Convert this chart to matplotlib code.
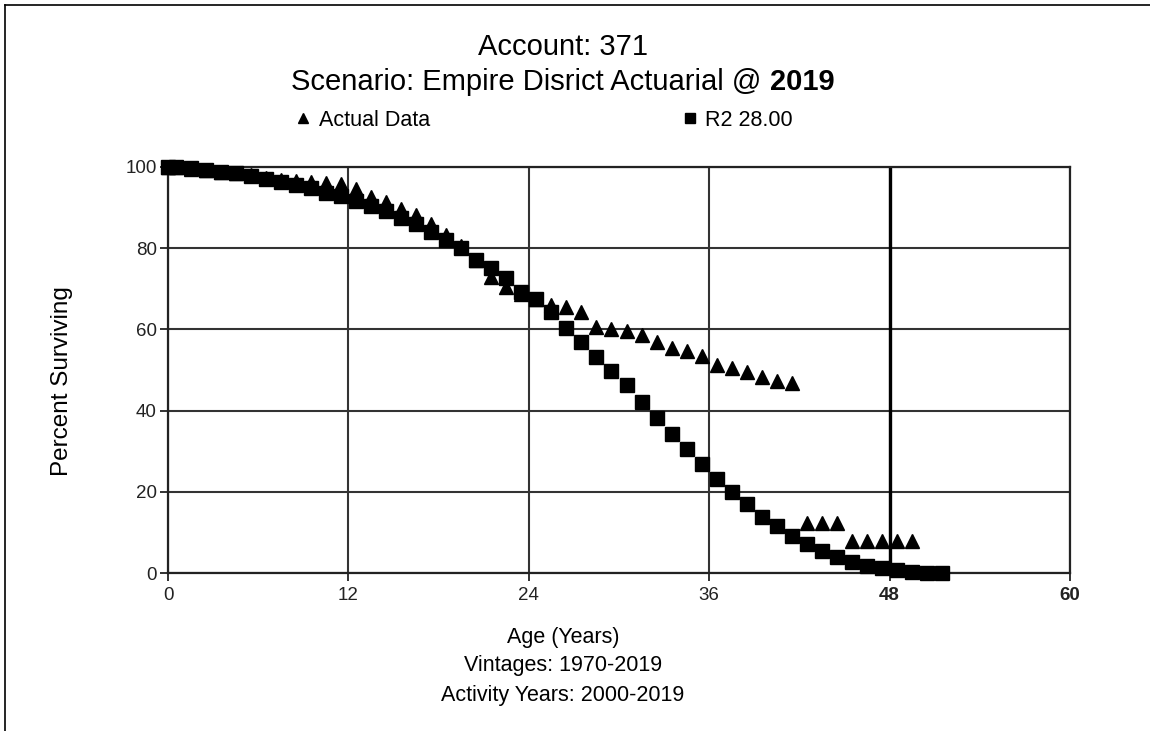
import matplotlib.pyplot as plt
from matplotlib.lines import Line2D

plt.rcParams['font.family'] = ['Liberation Sans', 'DejaVu Sans']

# ages (years) of the survivor observations
ages_actual = [0, 0.5, 1.5, 2.5, 3.5, 4.5, 5.5, 6.5, 7.5, 8.5, 9.5, 10.5, 11.5,
               12.5, 13.5, 14.5, 15.5, 16.5, 17.5, 18.5, 19.5, 20.5, 21.5, 22.5,
               23.5, 24.5, 25.5, 26.5, 27.5, 28.5, 29.5, 30.5, 31.5, 32.5, 33.5,
               34.5, 35.5, 36.5, 37.5, 38.5, 39.5, 40.5, 41.5, 42.5, 43.5, 44.5,
               45.5, 46.5, 47.5, 48.5, 49.5]
pct_actual = [100.0, 99.9, 99.6, 99.2, 98.8, 98.6, 98.0, 97.4, 96.9, 96.6, 96.3,
              96.1, 95.8, 94.6, 92.6, 91.3, 89.7, 88.3, 86.0, 83.3, 80.6, 77.1,
              73.0, 70.4, 68.8, 67.4, 66.0, 65.5, 64.3, 60.5, 60.1, 59.6, 58.6,
              57.0, 55.5, 54.6, 53.4, 51.2, 50.4, 49.4, 48.2, 47.2, 46.8, 12.4,
              12.4, 12.4, 8.0, 8.0, 8.0, 8.0, 8.0]

# fitted Iowa R2 curve, 28 year average life
ages_r2 = [0, 0.5, 1.5, 2.5, 3.5, 4.5, 5.5, 6.5, 7.5, 8.5, 9.5, 10.5, 11.5,
           12.5, 13.5, 14.5, 15.5, 16.5, 17.5, 18.5, 19.5, 20.5, 21.5, 22.5,
           23.5, 24.5, 25.5, 26.5, 27.5, 28.5, 29.5, 30.5, 31.5, 32.5, 33.5,
           34.5, 35.5, 36.5, 37.5, 38.5, 39.5, 40.5, 41.5, 42.5, 43.5, 44.5,
           45.5, 46.5, 47.5, 48.5, 49.5, 50.5, 51.5]
pct_r2 = [100.0, 99.9, 99.7, 99.3, 98.7, 98.4, 97.8, 97.1, 96.3, 95.6, 94.8,
          93.7, 92.8, 91.7, 90.5, 89.2, 87.5, 86.0, 84.0, 82.0, 80.0, 77.2,
          75.0, 72.6, 69.2, 67.5, 64.3, 60.4, 56.9, 53.2, 49.8, 46.2, 42.1,
          38.1, 34.2, 30.6, 26.8, 23.1, 20.0, 17.0, 13.8, 11.5, 9.1, 7.1, 5.4,
          3.9, 2.7, 1.7, 1.2, 0.7, 0.3, 0.1, 0.0]

x_ticks = [0, 12, 24, 36, 48, 60]
y_ticks = [0, 20, 40, 60, 80, 100]

W, H = 1150, 731
fig = plt.figure(figsize=(W / 100, H / 100), dpi=100)
ax = fig.add_axes([168 / W, 1 - 573 / H, 902 / W, 406 / H])

ax.plot(ages_actual, pct_actual, linestyle='none', marker='^', markersize=10.5,
        color='black', label='Actual Data', clip_on=False, zorder=3)
ax.plot(ages_r2, pct_r2, linestyle='none', marker='s', markersize=9.5,
        color='black', label='R2 28.00', clip_on=False, zorder=4)

ax.set_xlim(0, 60)
ax.set_ylim(0, 100)
ax.set_xticks(x_ticks)
ax.set_yticks(y_ticks)
ax.tick_params(direction='out', length=6, width=1.3, labelsize=13.5, pad=2,
               colors='#222222')
ax.tick_params(axis='x', pad=4)
for lbl in ax.get_xticklabels()[-2:]:
    lbl.set_fontweight('bold')

ax.grid(True, color='#333333', linewidth=1.5)
ax.axvline(48, color='black', linewidth=2.4, zorder=2)
for s in ax.spines.values():
    s.set_linewidth(1.6)
    s.set_color('#222222')

ax.legend(loc='lower left', bbox_to_anchor=(297 / W, 1 - 131 / H),
          bbox_transform=fig.transFigure, ncol=2, frameon=False, fontsize=15.5,
          markerscale=0.75, handlelength=0.6, handletextpad=0.4,
          columnspacing=11.8, borderaxespad=0, borderpad=0)

fig.text(563 / W, 1 - 47 / H, 'Account: 371', ha='center', va='center',
         fontsize=21)

# second title line, with the year set in bold
t1 = fig.text(0, 1 - 82 / H, 'Scenario: Empire Disrict Actuarial @ ',
              ha='left', va='center', fontsize=21)
t2 = fig.text(0, 1 - 82 / H, '2019', ha='left', va='center', fontsize=21,
              fontweight='bold')
r = fig.canvas.get_renderer()
w1 = t1.get_window_extent(r).width
w2 = t2.get_window_extent(r).width
x0 = 563 - (w1 + w2) / 2
t1.set_x(x0 / W)
t2.set_x((x0 + w1) / W)

fig.text(62 / W, 1 - 381 / H, 'Percent Surviving', rotation=90,
         ha='center', va='center', fontsize=17.5)
fig.text(563 / W, 1 - 637 / H, 'Age (Years)', ha='center', va='center',
         fontsize=15.5)
fig.text(563 / W, 1 - 666 / H, 'Vintages: 1970-2019', ha='center',
         va='center', fontsize=15.5)
fig.text(563 / W, 1 - 696 / H, 'Activity Years: 2000-2019', ha='center',
         va='center', fontsize=15.5)

# outer frame lines
fig.add_artist(Line2D([5 / W, 5 / W], [0, 1 - 5 / H], color='black',
                      linewidth=1.2, transform=fig.transFigure))
fig.add_artist(Line2D([5 / W, 1], [1 - 5 / H, 1 - 5 / H], color='black',
                      linewidth=1.2, transform=fig.transFigure))

fig.savefig('out.png', dpi=100)
